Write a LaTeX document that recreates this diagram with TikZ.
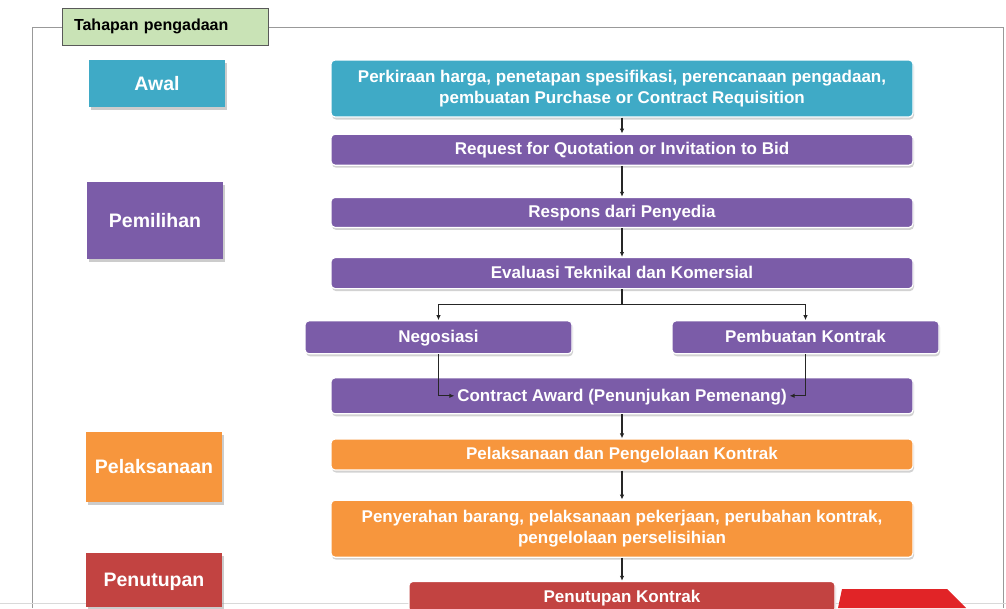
\documentclass[tikz,border=0pt]{standalone}
\usepackage{fontspec}
\setmainfont{Liberation Sans}
\usetikzlibrary{arrows.meta,positioning,shadows}

\definecolor{tealbox}{HTML}{3FAAC6}
\definecolor{purplebox}{HTML}{7B5CA8}
\definecolor{orangebox}{HTML}{F7963D}
\definecolor{redbox}{HTML}{C24341}
\definecolor{brightred}{HTML}{E12427}
\definecolor{titlegreen}{HTML}{C9E3B6}

\begin{document}
\begin{tikzpicture}[
  x=1pt,y=-1pt,
  phase/.style={rectangle,minimum width=136pt,text=white,inner sep=0pt,
    text height=14pt,text depth=1pt,
    font=\fontsize{19.5}{22}\selectfont\bfseries,
    drop shadow={shadow xshift=1.5pt,shadow yshift=-3pt,fill=black!40}},
  process/.style={rectangle,rounded corners=4pt,draw=white,line width=1.2pt,
    text=white,align=center,minimum width=582pt,inner sep=0pt,
    font=\fontsize{17}{20.5}\selectfont\bfseries,
    drop shadow={shadow xshift=1pt,shadow yshift=-2.5pt,fill=black!35}},
  oneline/.style={process,text height=12pt,text depth=1.5pt},
  branch/.style={oneline,minimum width=267pt},
  arrow/.style={-{Latex[length=5pt,width=4.5pt]},line width=1.1pt,draw=black!85}
]
\useasboundingbox (0,0) rectangle (1006,608);

% outer frame and title tab
\draw[black!40,line width=1pt] (32,608) -- (32,27) -- (1003,27) -- (1003,608);
\draw[black!15] (0,603) -- (1006,603);
\node[rectangle,draw=black!65,fill=titlegreen,minimum width=206pt,minimum height=37pt,
  text width=182pt,align=left,inner xsep=12pt,
  font=\fontsize{16}{18}\selectfont\bfseries] (title) at (165,26.5) {Tahapan pengadaan};

% decoration at the bottom right
\fill[brightred] (842,589) -- (947,589) -- (966,608) -- (838,608) -- cycle;

% phases
\node[phase,fill=tealbox,minimum height=47pt] (awal) at (157,83.5) {Awal};
\node[phase,fill=purplebox,minimum height=77pt] (pemilihan) at (155,220.5) {Pemilihan};
\node[phase,fill=orangebox,minimum height=70pt] (pelaksanaan) at (154,467) {Pelaksanaan};
\node[phase,fill=redbox,minimum height=54pt] (penutupan) at (154,580) {Penutupan};

% steps
\node[process,fill=tealbox,minimum height=57pt] (perkiraan) at (622,88.5)
  {Perkiraan harga, penetapan spesifikasi, perencanaan pengadaan,\\pembuatan Purchase or Contract Requisition};
\node[oneline,fill=purplebox,minimum height=31pt,below=16pt of perkiraan] (rfq) {Request for Quotation or Invitation to Bid};
\node[oneline,fill=purplebox,minimum height=30pt,below=31pt of rfq] (respons) {Respons dari Penyedia};
\node[oneline,fill=purplebox,minimum height=31pt,below=29pt of respons] (evaluasi) {Evaluasi Teknikal dan Komersial};
\node[branch,fill=purplebox,minimum height=33pt,below=31pt of evaluasi,xshift=-183.5pt] (negosiasi) {Negosiasi};
\node[branch,fill=purplebox,minimum height=33pt,below=31pt of evaluasi,xshift=183.5pt] (pembuatan) {Pembuatan Kontrak};
\node[oneline,fill=purplebox,minimum height=36pt,below=88pt of evaluasi] (award) {Contract Award (Penunjukan Pemenang)};
\node[oneline,fill=orangebox,minimum height=31pt,below=24pt of award] (pengelolaan) {Pelaksanaan dan Pengelolaan Kontrak};
\node[process,fill=orangebox,minimum height=57pt,below=29pt of pengelolaan] (penyerahan)
  {Penyerahan barang, pelaksanaan pekerjaan, perubahan kontrak,\\pengelolaan perselisihian};
\node[oneline,fill=redbox,minimum height=31pt,minimum width=426pt,below=23pt of penyerahan] (kontrak) {Penutupan Kontrak};

\coordinate (awardin1) at ([xshift=124pt]award.west);
\coordinate (awardin2) at ([xshift=-124pt]award.east);

\draw[arrow] (perkiraan) -- (rfq);
\draw[arrow] (rfq) -- (respons);
\draw[arrow] (respons) -- (evaluasi);
\draw[arrow] (evaluasi.south) -- ++(0,15) -| (negosiasi.north);
\draw[arrow] (evaluasi.south) -- ++(0,15) -| (pembuatan.north);
\draw[arrow] (negosiasi.south) |- (awardin1);
\draw[arrow] (pembuatan.south) |- (awardin2);
\draw[arrow] (award) -- (pengelolaan);
\draw[arrow] (pengelolaan) -- (penyerahan);
\draw[arrow] (penyerahan) -- (kontrak);
\end{tikzpicture}
\end{document}
